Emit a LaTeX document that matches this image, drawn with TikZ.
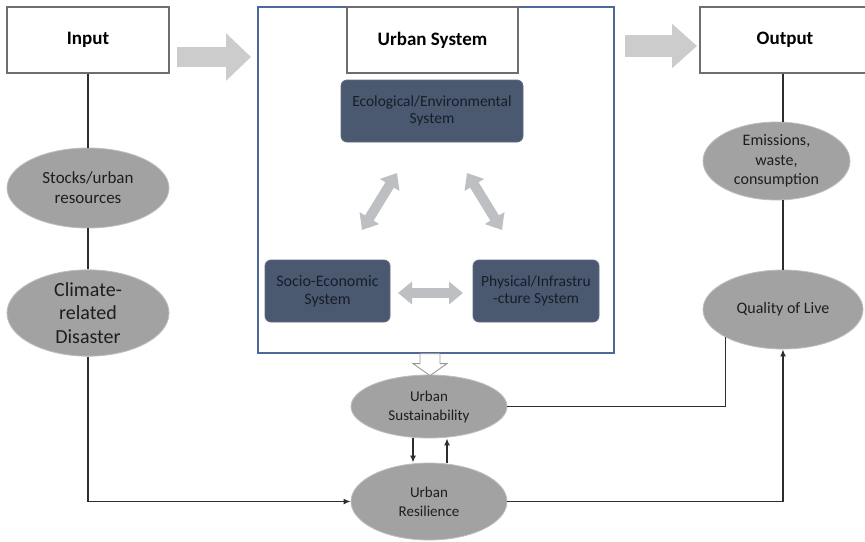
\documentclass[tikz,border=0pt]{standalone}
\usepackage{fontspec}
\setmainfont{Carlito}
\usetikzlibrary{arrows.meta,shapes.geometric,calc}
\definecolor{boxline}{RGB}{110,110,110}
\definecolor{frameblue}{RGB}{78,104,156}
\definecolor{slate}{RGB}{75,89,112}
\definecolor{slateline}{RGB}{95,108,130}
\definecolor{slatetext}{RGB}{22,29,42}
\definecolor{ellfill}{RGB}{162,162,162}
\definecolor{ellline}{RGB}{190,190,190}
\definecolor{elltext}{RGB}{30,30,30}
\definecolor{bigarrow}{RGB}{204,204,204}
\definecolor{dblgray}{RGB}{189,191,194}
\definecolor{linkgray}{RGB}{45,45,45}
\tikzset{
  titlebox/.style={draw=boxline, line width=1.6pt, fill=white, rectangle, minimum height=66pt,
    font=\fontsize{19}{23}\selectfont\bfseries, text=black},
  sysbox/.style={draw=slateline, line width=0.8pt, fill=slate, rounded corners=6pt, rectangle,
    text=slatetext, align=center, font=\fontsize{15.5}{17.5}\selectfont},
  oval/.style={ellipse, draw=ellline, line width=0.8pt, fill=ellfill, text=elltext, align=center,
    inner sep=0pt, font=\fontsize{16}{19.5}\selectfont},
  link/.style={draw=linkgray, line width=1.6pt},
  linkarrow/.style={link, -{Latex[length=7pt,width=6pt]}},
  fatarrow/.style={draw=bigarrow, line width=#1, line cap=butt},
  dblarrow/.style={draw=dblgray, line width=10pt, line cap=butt,
    {Triangle[length=14pt,width=22pt]}-{Triangle[length=14pt,width=22pt]}},
}
\begin{document}
\begin{tikzpicture}[x=1pt,y=-1pt]
\useasboundingbox (0,0) rectangle (865,541);
\clip (0,0) rectangle (865,541);
\fill[white] (0,0) rectangle (865,541);

% Urban system frame
\node[draw=frameblue, line width=1.2pt, rectangle, minimum width=356pt, minimum height=346pt, inner sep=0pt]
  (frame) at (436,180) {};

% Title boxes
\node[titlebox, minimum width=162pt] (input) at (88,40) {Input};
\node[titlebox, minimum width=171pt] (ustitle) at (432.5,40) {Urban System};
\node[titlebox, minimum width=170pt] (output) at (785,40) {Output};

% System boxes
\node[sysbox, minimum width=182pt, minimum height=62pt] (eco) at (432,111) {Ecological/Environmental\\System};
\node[sysbox, minimum width=125pt, minimum height=62pt, font=\fontsize{16}{18}\selectfont] (socio) at (327.5,291) {Socio-Economic\\System};
\node[sysbox, minimum width=126pt, minimum height=62pt] (phys) at (536,291) {Physical/Infrastru\\-cture System};

% Ovals
\node[oval, minimum width=162pt, minimum height=80pt, font=\fontsize{17}{20}\selectfont] (stocks) at (88,188) {Stocks/urban\\resources};
\node[oval, minimum width=162pt, minimum height=80pt, font=\fontsize{20}{23.5}\selectfont] (climate) at (88,313) {Climate-\\related\\Disaster};
\node[oval, minimum width=147pt, minimum height=78pt] (emis) at (776.5,161) {Emissions,\\waste,\\consumption};
\node[oval, minimum width=160pt, minimum height=79pt] (qual) at (783,309.5) {Quality of Live};
\node[oval, minimum width=156pt, minimum height=63pt, font=\fontsize{15}{19}\selectfont] (sustain) at (429,406.5) {Urban\\Sustainability};
\node[oval, minimum width=156pt, minimum height=77pt, font=\fontsize{15}{19}\selectfont] (resil) at (429,501.5) {Urban\\Resilience};

% Big grey arrows
\coordinate (a1s) at (177,57);
\coordinate (a1e) at (251,57);
\draw[fatarrow=20pt, -{Triangle[length=25pt,width=46pt]}] (a1s) -- (a1e);
\coordinate (a2s) at (625,46);
\coordinate (a2e) at (697,46);
\draw[fatarrow=22pt, -{Triangle[length=25pt,width=43pt]}] (a2s) -- (a2e);

% Double arrows inside urban system
\coordinate (d1a) at (397,173); \coordinate (d1b) at (362,230);
\coordinate (d2a) at (467,173); \coordinate (d2b) at (502,230);
\coordinate (d3a) at (398,293); \coordinate (d3b) at (463,293);
\draw[dblarrow] (d1a) -- (d1b);
\draw[dblarrow] (d2a) -- (d2b);
\draw[dblarrow] (d3a) -- (d3b);

% Open arrow from urban system to sustainability
\coordinate (oa) at (frame.south -| 430,0);
\draw[draw=gray!80, line width=0.9pt, fill=white, line join=miter]
  ($(oa)+(-10,0)$) -- ($(oa)+(10,0)$) -- ($(oa)+(10,10)$) -- ($(oa)+(17,10)$) -- ($(oa)+(0,22)$)
  -- ($(oa)+(-17,10)$) -- ($(oa)+(-10,10)$) -- cycle;

% Connectors
\draw[link] (input.south) -- (stocks.north);
\draw[link] (stocks.south) -- (climate.north);
\draw[linkarrow] (climate.south) |- (resil.west);
\draw[link] (output.south) ++(-2,0) coordinate (os) -- (os |- emis.north);
\draw[link] (emis.south -| qual.north) -- (qual.north);
\draw[link] (sustain.east) -| (qual.206.7);
\draw[linkarrow] (resil.east) -| (qual.south);
\draw[linkarrow] ([xshift=-16pt]sustain.south) -- ([xshift=-16pt]resil.north);
\draw[linkarrow] ([xshift=18pt]resil.north) -- ([xshift=18pt]sustain.south);
\end{tikzpicture}
\end{document}
